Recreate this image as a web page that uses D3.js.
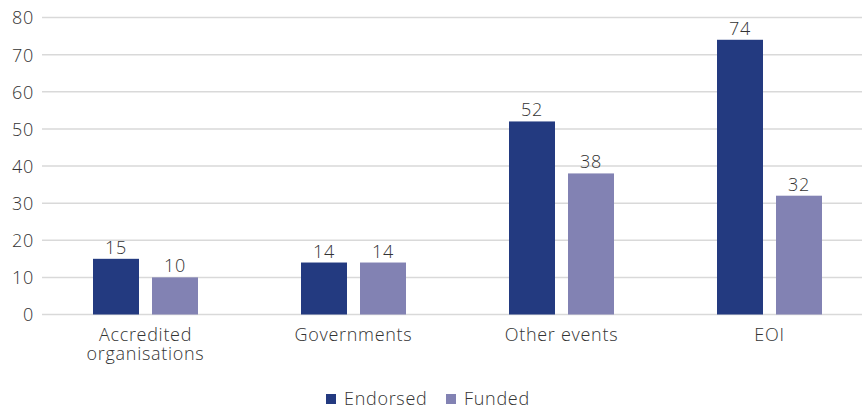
<!DOCTYPE html>
<html><head><meta charset="utf-8">
<script src="https://cdn.jsdelivr.net/npm/d3@7"></script>
<style>
html,body{margin:0;padding:0;background:#fff;}
svg{display:block;}
text{font-family:"Open Sans",Lato,sans-serif;font-weight:300;fill:#333;letter-spacing:0.7px;}
</style></head>
<body>
<svg id="chart" width="862" height="409"></svg>
<script>
const categories = ["Accredited organisations", "Governments", "Other events", "EOI"];
const categoryLines = [["Accredited", "organisations"], ["Governments"], ["Other events"], ["EOI"]];
const seriesNames = ["Endorsed", "Funded"];
const endorsed = [15, 14, 52, 74];
const funded = [10, 14, 38, 32];
const yTicks = [0, 10, 20, 30, 40, 50, 60, 70, 80];
const colors = ["#233A80", "#8282B3"];
const FS = 18;

const svg = d3.select("#chart");
const y = d3.scaleLinear().domain([0, 80]).range([314.5, 17.5]);
const x0 = d3.scaleBand().domain(categories).range([41.5, 873.5]).paddingInner(0).paddingOuter(0);
const x1 = d3.scaleBand().domain(seriesNames).range([51.5, 208 - 51.5]).paddingInner(13 / 59).paddingOuter(0);

// gridlines
svg.append("g").selectAll("line").data(yTicks).join("line")
  .attr("x1", 42).attr("x2", 862)
  .attr("y1", d => y(d)).attr("y2", d => y(d))
  .attr("stroke", "#d9d9d9").attr("stroke-width", 1.5);

// y axis labels
const yAxis = d3.axisLeft(y).tickValues(yTicks).tickSize(0).tickPadding(0);
const ga = svg.append("g").attr("transform", "translate(34,0)").call(yAxis);
ga.select(".domain").remove();
ga.selectAll("text").attr("font-size", FS).attr("font-family", null)
  .attr("fill", null).attr("dy", "0.36em");

const data = categories.map((c, i) => ({cat: c, vals: [endorsed[i], funded[i]]}));

const groups = svg.append("g").selectAll("g").data(data).join("g")
  .attr("transform", d => `translate(${x0(d.cat)},0)`);

groups.selectAll("rect").data(d => d.vals.map((v, j) => ({s: seriesNames[j], v, j}))).join("rect")
  .attr("x", d => x1(d.s)).attr("width", x1.bandwidth())
  .attr("y", d => y(d.v)).attr("height", d => y(0) - y(d.v))
  .attr("fill", d => colors[d.j]);

groups.selectAll("text.val").data(d => d.vals.map((v, j) => ({s: seriesNames[j], v, j}))).join("text")
  .attr("class", "val")
  .attr("x", d => x1(d.s) + x1.bandwidth() / 2)
  .attr("y", d => y(d.v) - 5)
  .attr("text-anchor", "middle").attr("font-size", FS)
  .text(d => d.v);

// category labels
categories.forEach((c, i) => {
  const cx = x0(c) + x0.bandwidth() / 2;
  categoryLines[i].forEach((ln, k) => {
    svg.append("text").attr("x", cx).attr("y", 341 + k * 19)
      .attr("text-anchor", "middle").attr("font-size", FS).text(ln);
  });
});

// legend
const legendX = [326, 446];
const leg = svg.append("g").selectAll("g").data(seriesNames).join("g")
  .attr("transform", (d, i) => `translate(${legendX[i]},0)`);
leg.append("rect").attr("x", 0).attr("y", 394).attr("width", 10).attr("height", 10)
  .attr("fill", (d, i) => colors[i]);
leg.append("text").attr("x", 18).attr("y", 405).attr("font-size", FS).text(d => d);
</script>
</body></html>
